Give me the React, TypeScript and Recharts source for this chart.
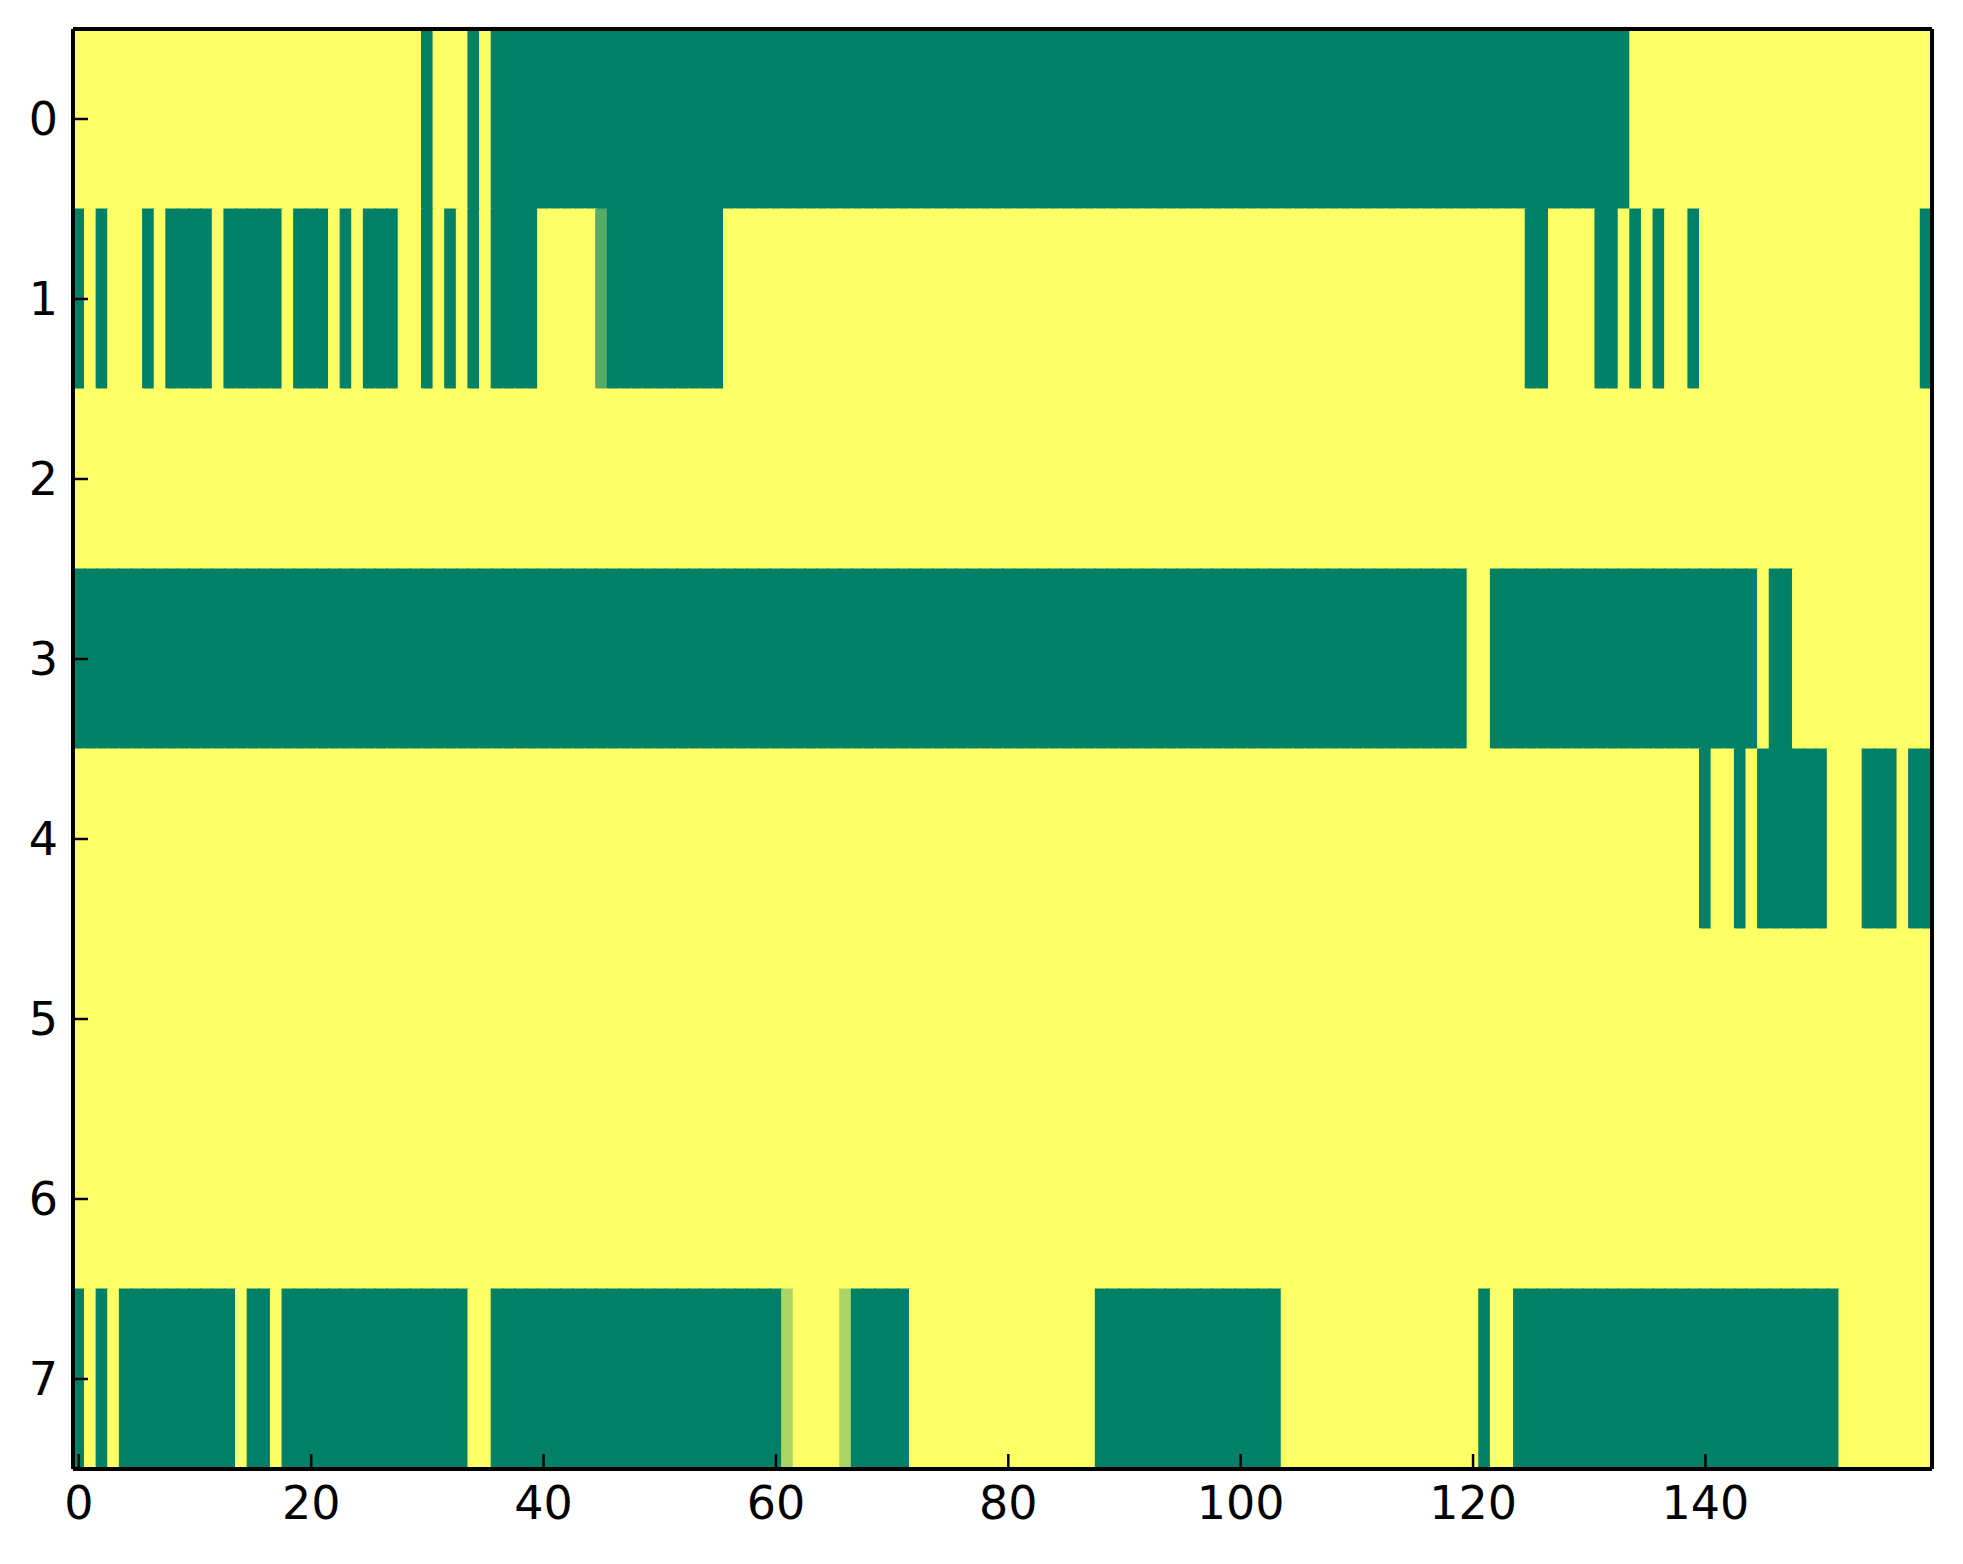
import React from 'react';
import { BarChart, Bar, XAxis, YAxis, Cell } from 'recharts';

const NUM_COLS = 160;
const ROW_IDS = [0, 1, 2, 3, 4, 5, 6, 7];
const Y_TICKS = [0.5, 1.5, 2.5, 3.5, 4.5, 5.5, 6.5, 7.5];

// runs of non-yellow cells per row: [first col, last col, value]; every other cell is 1
const row0 = [[30, 30, 0], [34, 34, 0], [36, 133, 0]];
const row1 = [
  [0, 0, 0], [2, 2, 0], [6, 6, 0], [8, 11, 0], [13, 17, 0], [19, 21, 0], [23, 23, 0],
  [25, 27, 0], [30, 30, 0], [32, 32, 0], [34, 34, 0], [36, 39, 0], [45, 45, 0.333],
  [46, 55, 0], [125, 126, 0], [131, 132, 0], [134, 134, 0], [136, 136, 0],
  [139, 139, 0], [159, 159, 0],
];
const row2: number[][] = [];
const row3 = [[0, 119, 0], [122, 144, 0], [146, 147, 0]];
const row4 = [[140, 140, 0], [143, 143, 0], [145, 150, 0], [154, 156, 0], [158, 159, 0]];
const row5: number[][] = [];
const row6: number[][] = [];
const row7 = [
  [0, 0, 0], [2, 2, 0], [4, 13, 0], [15, 16, 0], [18, 33, 0], [36, 60, 0],
  [61, 61, 0.667], [66, 66, 0.667], [67, 71, 0], [88, 103, 0], [121, 121, 0], [124, 151, 0],
];

const rows = [row0, row1, row2, row3, row4, row5, row6, row7];

function cellValue(runs: number[][], col: number) {
  const run = runs.find(([a, b]) => col >= a && col <= b);
  return run ? run[2] : 1;
}

// matplotlib "summer" colormap
function summer(v: number) {
  const r = Math.round(255 * v);
  const g = Math.round(255 * (0.5 + 0.5 * v));
  return `rgb(${r},${g},102)`;
}

const table = Array.from({ length: NUM_COLS }, (_, col) => {
  const entry: Record<string, number> = { col };
  ROW_IDS.forEach((r) => (entry[`r${r}`] = 1));
  return entry;
});

const font = { fill: '#000', fontSize: 46, fontFamily: 'DejaVu Sans' };
const axisLine = { stroke: '#000', strokeWidth: 4 };
const tickLine = { stroke: '#000', strokeWidth: 2.5 };

export default function App() {
  return (
    <BarChart
      width={1947}
      height={1548}
      data={table}
      margin={{ top: 20, right: 22, bottom: 0, left: 0 }}
      barCategoryGap={0}
      barGap={0}
    >
      <XAxis
        dataKey="col"
        type="category"
        interval={19}
        height={87}
        tickSize={-15}
        tickMargin={32}
        axisLine={axisLine}
        tickLine={tickLine}
        tick={font}
      />
      <XAxis
        xAxisId="top"
        orientation="top"
        dataKey="col"
        type="category"
        interval={19}
        height={1}
        tickSize={-15}
        axisLine={axisLine}
        tickLine={tickLine}
        tick={false}
      />
      <YAxis
        type="number"
        domain={[0, 8]}
        reversed
        ticks={Y_TICKS}
        tickFormatter={(v: number) => String(v - 0.5)}
        width={65}
        tickSize={-15}
        tickMargin={30}
        axisLine={axisLine}
        tickLine={tickLine}
        tick={font}
      />
      <YAxis
        yAxisId="right"
        orientation="right"
        type="number"
        domain={[0, 8]}
        reversed
        ticks={Y_TICKS}
        width={1}
        tickSize={-15}
        axisLine={axisLine}
        tickLine={tickLine}
        tick={false}
      />
      {ROW_IDS.map((r) => (
        <Bar key={r} dataKey={`r${r}`} stackId="grid" isAnimationActive={false}>
          {table.map((d) => {
            const c = summer(cellValue(rows[r], d.col));
            return <Cell key={d.col} fill={c} stroke={c} strokeWidth={1.2} />;
          })}
        </Bar>
      ))}
    </BarChart>
  );
}
